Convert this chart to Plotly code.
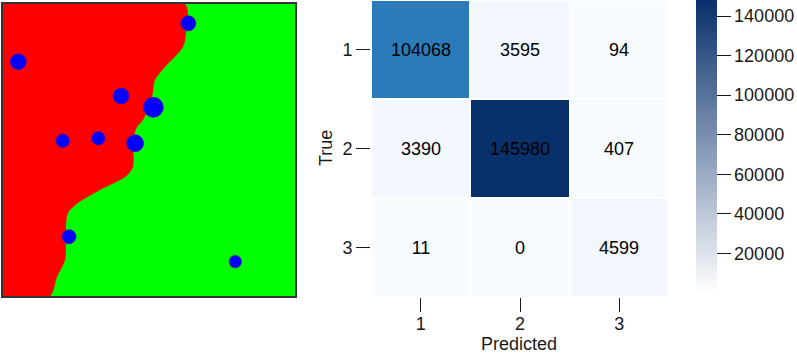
import plotly.graph_objects as go
from plotly.colors import sequential

W, H = 797, 354

# ---------------- Left panel data (image coordinates, pixels of a 292x292 image) ----
IMG_SIZE = 292
# decision boundary between red (left) and green (right) regions: (y, x)
boundary_y = [0, 29, 43, 63, 76, 93, 116, 123, 136, 163, 173, 186, 199, 209, 223, 256, 273, 292]
boundary_x = [182, 183, 180, 162, 152, 149, 140, 134, 130, 130, 122, 97, 75, 65, 63, 62, 54, 47]
# blue points
dot_x = [185.3, 15.3, 118, 150.3, 59.7, 95.3, 132, 66, 232.3]
dot_y = [19.3, 57.7, 92, 103.3, 136.7, 134.3, 139.3, 232.7, 257.7]
dot_d = [15, 16, 16, 20, 13.5, 13.5, 17, 14, 12.3]

# ---------------- Confusion matrix ----------------
labels = ["1", "2", "3"]
cm = [[104068, 3595, 94],
      [3390, 145980, 407],
      [11, 0, 4599]]
cbar_ticks = [20000, 40000, 60000, 80000, 100000, 120000, 140000]
cbar_min, cbar_max = 0, 148087

FONT = "Liberation Sans, Arial, sans-serif"
INK = "#1a1a1a"

def px_x(p):
    return p / W

def px_y(p):
    return 1 - p / H

fig = go.Figure()

# green background of image
fig.add_trace(go.Scatter(
    x=[0, IMG_SIZE, IMG_SIZE, 0, 0], y=[0, 0, IMG_SIZE, IMG_SIZE, 0],
    fill="toself", fillcolor="#00ff00", mode="lines", line=dict(width=0),
    xaxis="x", yaxis="y", hoverinfo="skip", showlegend=False))
# red region
fig.add_trace(go.Scatter(
    x=[0] + boundary_x + [0], y=[0] + boundary_y + [IMG_SIZE],
    fill="toself", fillcolor="#ff0000", mode="lines",
    line=dict(width=0, shape="spline", smoothing=0.8),
    xaxis="x", yaxis="y", hoverinfo="skip", showlegend=False))
# blue dots
fig.add_trace(go.Scatter(
    x=dot_x, y=dot_y, mode="markers",
    marker=dict(color="#0000ff", size=dot_d, sizemode="diameter", opacity=1,
                line=dict(width=0.8, color="#5a00b4")),
    xaxis="x", yaxis="y", hoverinfo="skip", showlegend=False))

# heatmap
fig.add_trace(go.Heatmap(
    z=cm, x=labels, y=labels, colorscale=sequential.Blues, zmin=0, zmax=max(max(r) for r in cm),
    xgap=2, ygap=2, showscale=False,
    texttemplate="%{z:d}", textfont=dict(family=FONT, size=18, color="black"),
    xaxis="x2", yaxis="y2"))

# colorbar (linear white -> navy)
fig.add_trace(go.Scatter(
    x=[labels[0]], y=[labels[0]], mode="markers",
    marker=dict(size=1, opacity=0, color=[cbar_min], cmin=cbar_min, cmax=cbar_max,
                colorscale=[[0, "#ffffff"], [1, "#08306b"]], showscale=True,
                colorbar=dict(
                    x=px_x(696), xanchor="left", xpad=0,
                    y=1, yanchor="top", ypad=0,
                    len=293, lenmode="pixels",
                    thickness=21, thicknessmode="pixels",
                    outlinewidth=0,
                    ticks="outside", ticklen=14, tickwidth=1.2, tickcolor=INK,
                    tickvals=cbar_ticks, ticktext=[str(v) for v in cbar_ticks],
                    tickfont=dict(family=FONT, size=18, color=INK))),
    xaxis="x2", yaxis="y2", hoverinfo="skip", showlegend=False))

fig.update_layout(
    width=W, height=H,
    margin=dict(l=0, r=0, t=0, b=0),
    paper_bgcolor="white", plot_bgcolor="white",
    font=dict(family=FONT, size=18, color=INK),
    xaxis=dict(domain=[px_x(3), px_x(295)], range=[0, IMG_SIZE], showgrid=False, zeroline=False,
               showticklabels=False, ticks="", showline=True, mirror=True, linecolor="#333",
               linewidth=1.5),
    yaxis=dict(domain=[px_y(296), px_y(4)], range=[IMG_SIZE, 0], showgrid=False, zeroline=False,
               showticklabels=False, ticks="", showline=True, mirror=True, linecolor="#333",
               linewidth=1.5),
    xaxis2=dict(domain=[px_x(371), px_x(669)], anchor="y2", showgrid=False, zeroline=False,
                ticks="outside", ticklen=14, tickwidth=1.2, tickcolor=INK,
                ticklabelstandoff=-4,
                tickfont=dict(family=FONT, size=18, color=INK), showline=False),
    yaxis2=dict(domain=[px_y(297), 1], anchor="x2", autorange="reversed", showgrid=False,
                zeroline=False, ticks="outside", ticklen=14, tickwidth=1.2, tickcolor=INK,
                ticklabelstandoff=0,
                tickfont=dict(family=FONT, size=18, color=INK), showline=False),
    annotations=[
        dict(text="True", x=px_x(326), y=px_y(148), xref="paper", yref="paper",
             textangle=-90, showarrow=False, xanchor="center", yanchor="middle",
             font=dict(family=FONT, size=18, color=INK)),
        dict(text="Predicted", x=px_x(519), y=px_y(344), xref="paper", yref="paper",
             showarrow=False, xanchor="center", yanchor="middle",
             font=dict(family=FONT, size=18, color=INK)),
    ],
)

fig.write_html("out.html", config={"displayModeBar": False},
               post_script="document.body.style.margin='0';document.body.style.overflow='hidden';")
